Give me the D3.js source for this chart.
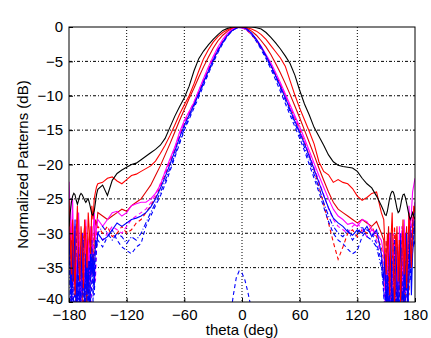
<!DOCTYPE html>
<html>
<head>
<meta charset="utf-8">
<script src="https://cdn.jsdelivr.net/npm/d3@7"></script>
<style>
  body { margin: 0; background: #fff; }
  svg { display: block; }
</style>
</head>
<body>
<div id="vis"></div>
<script>
// Frame and plot area
const FRAME_WIDTH = 431;
const FRAME_HEIGHT = 338;
const MARGINS = {left: 69, right: 16, top: 27, bottom: 36};
const VIS_WIDTH = FRAME_WIDTH - MARGINS.left - MARGINS.right;
const VIS_HEIGHT = FRAME_HEIGHT - MARGINS.top - MARGINS.bottom;

// Tick values
const X_TICKS = [-180, -120, -60, 0, 60, 120, 180];
const Y_TICKS = [0, -5, -10, -15, -20, -25, -30, -35, -40];

// Angle samples (deg): fine steps in the back lobes, 5 deg elsewhere
const THETA = [
  -180, -178.75, -177.5, -176.25, -175, -173.75, -172.5, -171.25, -170, -168.75,
  -167.5, -166.25, -165, -163.75, -162.5, -161.25, -160, -158.75, -157.5, -156.25,
  -155, -153.75, -152.5, -151.25, -150,
  -145, -140, -135, -130, -125, -120, -115, -110, -105, -100,
  -95, -90, -85, -80, -75, -70, -65, -60, -55, -50,
  -45, -40, -35, -30, -25, -20, -15, -10, -5,
  0,
  5, 10, 15, 20, 25, 30, 35, 40, 45, 50,
  55, 60, 65, 70, 75, 80, 85, 90, 95, 100,
  105, 110, 115, 120, 125, 130, 135, 140, 145,
  147.5, 148.75, 150, 151.25, 152.5, 153.75, 155, 156.25, 157.5, 158.75,
  160, 161.25, 162.5, 163.75, 165, 166.25, 167.5, 168.75, 170, 171.25,
  172.5, 173.75, 175, 176.25, 177.5, 178.75, 180
];

// Normalized patterns (dB), one array per curve
const BLACK = [
  -29, -27, -25.5, -24.6, -24.2, -24.4, -25.2, -25.8, -25.2, -24.5,
  -24.2, -24.4, -24.8, -25.2, -25.5, -25.2, -25, -25.6, -26.4, -27.2,
  -27.4, -26.8, -25.5, -24.3, -23.6,
  -23, -24.5, -22.3, -21.3, -20.8, -20.4, -20, -19.8, -19.3, -18.8,
  -18.3, -17.8, -17.2, -16.2, -14.6, -13, -11.6, -10.3, -8.6, -6.4,
  -4.6, -3.5, -2.6, -1.8, -1.1, -0.5, -0.2, 0, 0,
  0,
  0, 0, -0.1, -0.3, -0.8, -1.5, -2.3, -3.2, -4.2, -5.3,
  -7, -9.2, -11.2, -12.8, -14.6, -15.9, -17.2, -18.6, -19.6, -20.1,
  -20.3, -20.4, -20.5, -21, -22, -22.8, -23.4, -24.6, -26,
  -26.8, -27.3, -27.4, -26.8, -25.8, -24.8, -24.2, -23.9, -24, -24.6,
  -25.5, -26.4, -27, -26.8, -26, -25, -24.4, -24.3, -24.8, -25.6,
  -26.5, -27.4, -28, -27.6, -27, -27.5, -28
];
const RED_A = [
  -25, -31, -36, -28, -33, -39, -30, -26, -34, -37,
  -29, -32, -38, -28, -31, -35, -27, -30, -33, -26,
  -28, -25, -24, -23.2, -22.8,
  -22.6, -22, -21.8, -22.4, -22.8, -22.2, -21.6, -21.4, -21, -20.6,
  -20.2, -19.5, -18.4, -17.2, -15.8, -14.3, -12.7, -11.3, -10, -8.3,
  -6.4, -4.6, -3.3, -2.2, -1.4, -0.8, -0.4, -0.1, 0,
  0,
  -0.1, -0.3, -0.6, -1.1, -1.8, -2.7, -3.6, -4.5, -5.7, -7.8,
  -9.9, -11.8, -13.5, -15.2, -17, -19.6, -21, -21.5, -22.6, -22.2,
  -22.6, -22.8, -23.5, -24.6, -25.2, -24.8, -24.2, -24, -27,
  -28, -32, -36, -30, -34, -39, -31, -27, -35, -41,
  -33, -29, -37, -31, -40, -34, -28, -36, -30, -38,
  -33, -27, -31, -35, -29, -26, -27
];
const RED_B = [
  -26, -33, -29, -38, -31, -35, -42, -30, -28, -36,
  -33, -40, -31, -29, -37, -41, -32, -30, -34, -29,
  -36, -31, -28, -29, -27,
  -27.5, -28, -27.5, -27, -26.5, -26.8, -26, -25.5, -25, -24,
  -23, -21.6, -20.2, -18.6, -17, -15.3, -13.6, -12, -10.4, -8.9,
  -7.3, -5.8, -4.4, -3.1, -2, -1.2, -0.6, -0.2, 0,
  0,
  -0.2, -0.6, -1.2, -2, -2.9, -4, -5.3, -6.7, -8.2, -9.8,
  -11.5, -13.2, -15, -16.8, -18.6, -20.5, -22.3, -24, -25.5, -26.5,
  -27, -27.5, -28, -28.5, -28, -28.5, -29, -28.3, -30,
  -31, -35, -40, -33, -29, -38, -42, -34, -31, -37,
  -30, -41, -35, -32, -39, -30, -36, -43, -33, -29,
  -37, -32, -28, -34, -30, -27, -26
];
const RED_DASH = [
  -27, -35, -41, -31, -37, -29, -44, -34, -30, -39,
  -36, -31, -42, -35, -29, -38, -33, -40, -31, -36,
  -30, -34, -31, -30, -29,
  -30, -29, -30.5, -30, -29, -30, -29.5, -28.5, -28, -27,
  -26, -24.8, -23.2, -21.5, -19.6, -17.8, -15.8, -14, -12.5, -11.1,
  -9.5, -7.8, -6.2, -4.7, -3.3, -2.1, -1.1, -0.4, -0.1,
  -0.1,
  -0.5, -1.1, -2, -3, -4.2, -5.5, -6.9, -8.4, -10, -11.6,
  -13.2, -14.9, -16.7, -18.7, -20.8, -23.2, -25.8, -28.5, -31.3, -33.8,
  -32, -30, -29.5, -30.5, -29.5, -30, -29, -30.5, -32,
  -34, -38, -31, -43, -36, -30, -40, -45, -33, -29,
  -39, -35, -42, -31, -37, -44, -34, -30, -41, -36,
  -32, -39, -28, -35, -31, -29, -30
];
const MAG = [
  -22.5, -27, -31, -25, -34, -29, -38, -32, -27, -36,
  -41, -30, -33, -39, -28, -35, -31, -37, -29, -33,
  -30, -27, -31, -29, -28,
  -29, -28, -27, -26.8, -27.5, -27, -26, -25.7, -25.5, -25.5,
  -25, -24.2, -23, -21, -19.2, -17.5, -15.3, -13.6, -12.3, -11,
  -9.2, -7.5, -5.8, -4.3, -2.9, -1.8, -0.9, -0.3, 0,
  -0.1,
  -0.4, -1, -1.8, -2.8, -4, -5.2, -6.6, -8.1, -9.7, -11.3,
  -12.9, -14.5, -16.2, -18, -19.8, -21.6, -23.3, -25, -26.5, -27.5,
  -28, -28.7, -28.5, -29, -28, -28.3, -29.5, -30, -31,
  -33, -37, -41, -32, -36, -30, -39, -44, -35, -31,
  -38, -33, -42, -29, -36, -32, -39, -28, -34, -30,
  -37, -26, -31, -27, -24, -23, -22
];
const MAG_DASH = [
  -33, -29, -38, -43, -31, -36, -28, -40, -34, -45,
  -32, -37, -30, -42, -35, -31, -39, -33, -44, -36,
  -31, -34, -37, -32, -30,
  -31, -30, -29, -29.5, -30, -29, -28, -27.5, -27, -26.5,
  -25.6, -24.4, -22.8, -21.2, -19.4, -17.6, -15.7, -13.9, -12.4, -10.9,
  -9.3, -7.6, -6, -4.5, -3.1, -2, -1, -0.3, 0,
  -0.1,
  -0.4, -1, -1.9, -3, -4.2, -5.5, -6.9, -8.4, -10, -11.7,
  -13.4, -15, -16.7, -18.5, -20.4, -22.4, -24.4, -26.4, -28, -29,
  -29.5, -30, -29, -28.5, -29.5, -30.5, -29.5, -31, -33,
  -36, -41, -33, -45, -38, -31, -42, -36, -30, -40,
  -34, -44, -37, -32, -41, -29, -38, -35, -43, -31,
  -36, -28, -33, -30, -27, -29, -25
];
const BLUE = [
  -29, -34, -40, -31, -37, -28, -42, -35, -32, -44,
  -38, -30, -36, -41, -33, -39, -34, -45, -32, -36,
  -33, -38, -31, -32, -30,
  -31, -30.5, -29.5, -28.5, -29, -28.5, -28, -27.8, -27.5, -27,
  -26.2, -25, -23.5, -21.8, -20, -18.1, -16.1, -14.3, -12.8, -11.3,
  -9.7, -8, -6.4, -4.8, -3.4, -2.2, -1.2, -0.5, -0.1,
  0,
  -0.3, -0.9, -1.8, -2.9, -4.2, -5.6, -7.1, -8.7, -10.3, -12,
  -13.7, -15.3, -17, -18.8, -20.7, -22.6, -24.5, -26.3, -27.8, -28.5,
  -29, -29.8, -30.3, -29.5, -30, -29, -30.5, -29.5, -33,
  -37, -33, -42, -36, -45, -34, -30, -41, -38, -44,
  -32, -37, -43, -35, -31, -40, -46, -33, -38, -30,
  -42, -36, -29, -39, -33, -31, -28
];
const BLUE_DASH = [
  -35, -31, -43, -37, -46, -33, -30, -41, -36, -44,
  -34, -39, -31, -45, -38, -35, -42, -32, -40, -37,
  -33, -39, -35, -32, -31,
  -32, -30.5, -29.5, -31, -32, -32.5, -33, -32, -31.5, -29,
  -27.5, -26, -24.6, -22.9, -21, -19, -17, -15, -13.4, -11.8,
  -10.2, -8.5, -6.8, -5.2, -3.7, -2.4, -1.3, -0.5, -0.1,
  -0.1,
  -0.4, -1.1, -2.1, -3.3, -4.6, -6.1, -7.7, -9.4, -11.1, -12.8,
  -14.5, -16.2, -18, -20, -22, -24, -26.2, -28.3, -30, -31,
  -31.5, -32.3, -33, -32.5, -30.5, -29.5, -30, -31.5, -34,
  -39, -44, -35, -31, -46, -38, -42, -34, -48, -37,
  -32, -43, -36, -40, -30, -45, -35, -41, -33, -38,
  -44, -31, -37, -33, -29, -32, -31
];
const BLUE_DASHDOT = [
  -31, -40, -35, -45, -38, -32, -47, -36, -41, -33,
  -44, -37, -31, -42, -35, -39, -46, -34, -37, -31,
  -40, -35, -32, -31, -30,
  -29, -30, -31, -30, -30.5, -31.5, -30.5, -31, -30, -28.5,
  -27, -25.6, -24.1, -22.4, -20.6, -18.7, -16.7, -14.8, -13.1, -11.5,
  -9.9, -8.2, -6.6, -5, -3.5, -2.3, -1.2, -0.5, -0.1,
  0,
  -0.3, -1, -1.9, -3.1, -4.4, -5.8, -7.3, -8.9, -10.6, -12.3,
  -14, -15.7, -17.5, -19.4, -21.4, -23.4, -25.5, -27.5, -29, -30,
  -30.5, -29.5, -31, -30, -29, -30.5, -31, -32, -35,
  -38, -42, -36, -47, -33, -40, -35, -44, -38, -31,
  -43, -37, -46, -34, -40, -32, -45, -36, -41, -33,
  -38, -30, -35, -31, -28, -30, -27
];

// Small blue trace rising from the floor near broadside
const BUMP_THETA = [-12, -9, -6, -3, 0, 3, 6, 9, 12];
const BUMP_DB = [-42, -39, -36.5, -35.5, -35.8, -36.8, -38.5, -40.5, -42];

// Curve styles, drawn back to front
const SERIES = [
  {values: RED_DASH, color: "#ff0000", dash: "4,3"},
  {values: RED_B, color: "#e00000", dash: null},
  {values: MAG_DASH, color: "#ff00ff", dash: "4,3"},
  {values: BLUE_DASH, color: "#0000ff", dash: "4,3"},
  {values: MAG, color: "#ff00ff", dash: null},
  {values: BLUE_DASHDOT, color: "#0000ff", dash: "5,2,1,2"},
  {values: BLUE, color: "#0000ff", dash: null},
  {values: RED_A, color: "#ff0000", dash: null},
  {values: BLACK, color: "#000000", dash: null}
];

const FRAME = d3.select("#vis")
  .append("svg")
    .attr("width", FRAME_WIDTH)
    .attr("height", FRAME_HEIGHT);

const X_SCALE = d3.scaleLinear().domain([-180, 180]).range([0, VIS_WIDTH]);
const Y_SCALE = d3.scaleLinear().domain([-40, 0]).range([VIS_HEIGHT, 0]);

const PLOT = FRAME.append("g")
  .attr("transform", "translate(" + MARGINS.left + "," + MARGINS.top + ")");

// Dotted grid
PLOT.append("g")
  .selectAll("line")
  .data(X_TICKS.slice(1, -1))
  .enter()
  .append("line")
    .attr("x1", (d) => X_SCALE(d)).attr("x2", (d) => X_SCALE(d))
    .attr("y1", 0).attr("y2", VIS_HEIGHT)
    .attr("stroke", "#000").attr("stroke-width", 1)
    .attr("stroke-dasharray", "1,2");
PLOT.append("g")
  .selectAll("line")
  .data(Y_TICKS.slice(1, -1))
  .enter()
  .append("line")
    .attr("x1", 0).attr("x2", VIS_WIDTH)
    .attr("y1", (d) => Y_SCALE(d)).attr("y2", (d) => Y_SCALE(d))
    .attr("stroke", "#000").attr("stroke-width", 1)
    .attr("stroke-dasharray", "3,2,1,2");

// Clip curves to the axes box
PLOT.append("clipPath").attr("id", "clip")
  .append("rect").attr("width", VIS_WIDTH).attr("height", VIS_HEIGHT);

const line = d3.line()
  .x((d) => X_SCALE(d[0]))
  .y((d) => Y_SCALE(d[1]));

const CURVES = PLOT.append("g").attr("clip-path", "url(#clip)");

CURVES.append("path")
  .attr("d", line(d3.zip(BUMP_THETA, BUMP_DB)))
  .attr("fill", "none")
  .attr("stroke", "#0000ff")
  .attr("stroke-width", 1.1)
  .attr("stroke-dasharray", "4,3");

CURVES.selectAll(".curve")
  .data(SERIES)
  .enter()
  .append("path")
    .attr("class", "curve")
    .attr("d", (s) => line(d3.zip(THETA, s.values)))
    .attr("fill", "none")
    .attr("stroke", (s) => s.color)
    .attr("stroke-width", 1.1)
    .attr("stroke-dasharray", (s) => s.dash);

// Axes, MATLAB style: ticks inside, box around
const fmt = (d) => (d < 0 ? "\u2212" + Math.abs(d) : "" + d);

PLOT.append("g")
  .attr("transform", "translate(0," + VIS_HEIGHT + ")")
  .call(d3.axisBottom(X_SCALE).tickValues(X_TICKS).tickFormat(fmt)
    .tickSizeInner(-4).tickSizeOuter(0).tickPadding(7))
  .call((g) => g.select(".domain").remove())
  .attr("font-family", "'Liberation Sans', Arial, sans-serif")
  .attr("font-size", 15);

const Y_AXIS = PLOT.append("g")
  .call(d3.axisLeft(Y_SCALE).tickValues(Y_TICKS).tickFormat(fmt)
    .tickSizeInner(-4).tickSizeOuter(0).tickPadding(6))
  .call((g) => g.select(".domain").remove())
  .attr("font-family", "'Liberation Sans', Arial, sans-serif")
  .attr("font-size", 15);

// Lift the bottom y label a little so it clears the x labels
Y_AXIS.selectAll(".tick text")
  .filter((d) => d === -40)
  .attr("y", -3);

PLOT.append("rect")
  .attr("width", VIS_WIDTH)
  .attr("height", VIS_HEIGHT)
  .attr("fill", "none")
  .attr("stroke", "#000")
  .attr("stroke-width", 1);

// Axis titles
FRAME.append("text")
  .attr("x", MARGINS.left + VIS_WIDTH / 2)
  .attr("y", 335)
  .attr("text-anchor", "middle")
  .attr("font-family", "'Liberation Sans', Arial, sans-serif")
  .attr("font-size", 15)
  .text("theta (deg)");

FRAME.append("text")
  .attr("transform", "translate(28," + (MARGINS.top + VIS_HEIGHT / 2) + ") rotate(-90)")
  .attr("text-anchor", "middle")
  .attr("font-family", "'Liberation Sans', Arial, sans-serif")
  .attr("font-size", 15)
  .text("Normalized Patterns (dB)");
</script>
</body>
</html>
